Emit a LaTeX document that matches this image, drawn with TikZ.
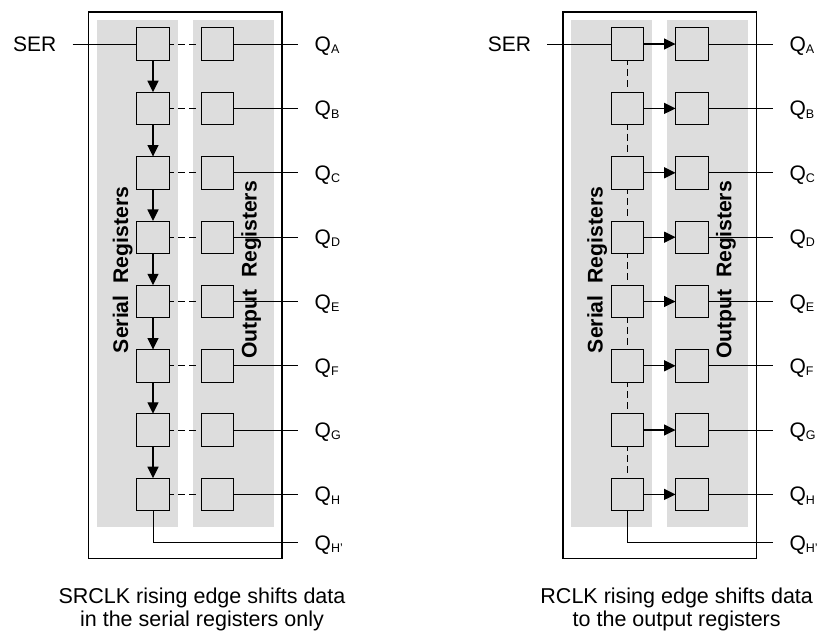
\documentclass[tikz,border=0pt]{standalone}
\usepackage{fontspec}
\setmainfont{Liberation Sans}
\usetikzlibrary{arrows.meta}
\definecolor{bandgray}{HTML}{DDDDDD}
\tikzset{
  x=1pt,y=-1pt,
  outerbox/.style={draw=black,line width=1.3pt},
  band/.style={fill=bandgray,draw=none},
  reg/.style={draw=black,line width=0.9pt,minimum width=32.5pt,minimum height=32.5pt,inner sep=0pt,outer sep=0pt},
  wire/.style={draw=black,line width=0.8pt},
  dashwire/.style={draw=black,line width=0.8pt,dash pattern=on 7pt off 4pt,dash phase=2pt},
  shiftarrow/.style={draw=black,line width=1.3pt,-{Triangle[length=11.5pt,width=11pt]}},
  pinlabel/.style={anchor=base west,inner sep=0pt,font=\fontsize{21}{24}\selectfont},
  vertlabel/.style={rotate=90,anchor=base,inner sep=0pt,font=\fontsize{21.2}{24}\selectfont\bfseries},
  caption/.style={anchor=base,inner sep=0pt,font=\fontsize{21.5}{24}\selectfont}
}
\newcommand{\subq}[1]{Q\raisebox{-2.2pt}{\fontsize{12.5}{15}\selectfont #1}}
\begin{document}
\begin{tikzpicture}
\clip (0,0) rectangle (817,630);
\fill[white] (0,0) rectangle (817,630);
% left panel
\draw[outerbox] (88.7,12) rectangle (282,238.7+320);
\fill[band] (97,20) rectangle (178,526.7);
\fill[band] (193,20) rectangle (274,526.7);
\node[vertlabel] (ls) at (128,270) {Serial\ \ Registers};
\node[vertlabel] (lo) at (256.7,270) {Output\ \ Registers};
% right panel
\draw[outerbox] (563,12) rectangle (756.3,238.7+320);
\fill[band] (571.3,20) rectangle (652.3,526.7);
\fill[band] (667.3,20) rectangle (748.3,526.7);
\node[vertlabel] (rs) at (602.7,270) {Serial\ \ Registers};
\node[vertlabel] (ro) at (731.4,270) {Output\ \ Registers};
% registers, pins
\foreach \i/\y/\q in {1/44/A,2/108.4/B,3/172.8/C,4/237.2/D,5/301.5/E,6/365.8/F,7/430/G,8/494.4/H}{
  \node[reg] (la\i) at (153,\y) {};
  \node[reg] (lb\i) at (217.5,\y) {};
  \node[reg] (ra\i) at (627.6,\y) {};
  \node[reg] (rb\i) at (691.8,\y) {};
  \coordinate (lq\i) at (298,\y);
  \coordinate (rq\i) at (772.6,\y);
  \node[pinlabel] (lt\i) at (314.5,\y+7.5) {\subq{\q}};
  \node[pinlabel] (rt\i) at (789.3,\y+7.5) {\subq{\q}};
  \draw[wire] (lb\i.east) -- (lq\i);
  \draw[wire] (rb\i.east) -- (rq\i);
  \draw[dashwire,shorten >=4.5pt] (la\i.east) -- (lb\i.west);
  \draw[shiftarrow] (ra\i.east) -- (rb\i.west);
}
\foreach \i/\j in {1/2,2/3,3/4,4/5,5/6,6/7,7/8}{
  \draw[shiftarrow] (la\i.south) -- (la\j.north);
  \draw[dashwire,shorten >=4.5pt] (ra\i.south) -- (ra\j.north);
}
% SER
\node[pinlabel] (lser) at (13,51.5) {SER};
\node[pinlabel] (rser) at (487.7,51.5) {SER};
\coordinate (lsi) at (72.5,44);
\coordinate (rsi) at (547,44);
\draw[wire] (lsi) -- (la1.west);
\draw[wire] (rsi) -- (ra1.west);
% QH'
\coordinate (lqh) at (298,542.7);
\coordinate (rqh) at (772.6,542.7);
\draw[wire] (la8.south) |- (lqh);
\draw[wire] (ra8.south) |- (rqh);
\node[pinlabel] (ltx) at (314.5,550.2) {\subq{H'}};
\node[pinlabel] (rtx) at (789.3,550.2) {\subq{H'}};
% captions
\node[caption] (lc1) at (202,603) {SRCLK rising edge shifts data};
\node[caption] (lc2) at (202,626.5) {in the serial registers only};
\node[caption] (rc1) at (676.7,603) {RCLK rising edge shifts data};
\node[caption] (rc2) at (676.7,626.5) {to the output registers};
\end{tikzpicture}
\end{document}
